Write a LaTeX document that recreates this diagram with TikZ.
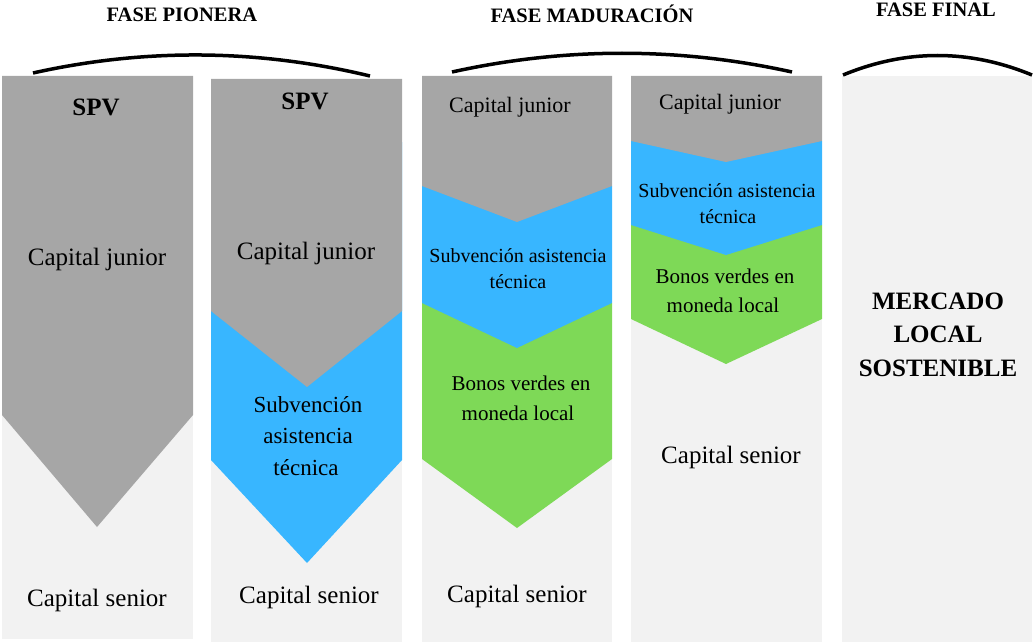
\documentclass[tikz,border=0pt]{standalone}
\usepackage{fontspec}
\setmainfont{Liberation Serif}
\definecolor{layergray}{HTML}{A6A6A6}
\definecolor{panelbg}{HTML}{F2F2F2}
\definecolor{grantblue}{HTML}{38B6FF}
\definecolor{bondgreen}{HTML}{7ED957}
\begin{document}
\begin{tikzpicture}[x=1pt,y=-1pt,
  txt/.style={anchor=base,inner sep=0pt,text=black},
  fbig/.style={txt,font=\fontsize{25}{30}\selectfont},
  fbigb/.style={txt,font=\bfseries\fontsize{25}{30}\selectfont},
  fmid/.style={txt,font=\fontsize{23}{28}\selectfont},
  fjr/.style={txt,font=\fontsize{22}{26}\selectfont},
  fbond/.style={txt,font=\fontsize{21}{25}\selectfont},
  fgrant/.style={txt,font=\fontsize{20}{24}\selectfont},
  ftitle/.style={txt,font=\bfseries\fontsize{20.5}{24}\selectfont},
  phase/.style={line width=3.5pt,draw=black}]
\useasboundingbox (0,0) rectangle (1034,642);

% column 1: pioneer SPV
\fill[panelbg] (2,76) rectangle (193,639);
\fill[layergray] (2,76) -- (193,76) -- (193,415) -- (97,527) -- (2,415) -- cycle;

% column 2: pioneer SPV with technical-assistance grant
\fill[panelbg] (211,79) rectangle (402,642);
\fill[grantblue] (211,142) -- (402,142) -- (402,460) -- (307,563) -- (211,460) -- cycle;
\fill[layergray] (211,79) -- (402,79) -- (402,311) -- (307,387) -- (211,311) -- cycle;

% column 3: maturation, large layers
\fill[panelbg] (422,76) rectangle (612,642);
\fill[bondgreen] (422,303) -- (612,303) -- (612,459) -- (517,528) -- (422,459) -- cycle;
\fill[grantblue] (422,186) -- (612,186) -- (612,303) -- (517,348) -- (422,303) -- cycle;
\fill[layergray] (422,76) -- (612,76) -- (612,186) -- (517,222) -- (422,186) -- cycle;

% column 4: maturation, smaller layers
\fill[panelbg] (631,76) rectangle (822,642);
\fill[bondgreen] (631,225) -- (822,225) -- (822,319) -- (726,364) -- (631,319) -- cycle;
\fill[grantblue] (631,141) -- (822,141) -- (822,225) -- (726,255) -- (631,225) -- cycle;
\fill[layergray] (631,76) -- (822,76) -- (822,141) -- (726,162) -- (631,141) -- cycle;

% column 5: final phase
\fill[panelbg] (842,76) rectangle (1032,642);

% phase brackets
\draw[phase] (33,73) .. controls (145,48) and (258,49) .. (370,76);
\draw[phase] (452,72) .. controls (565,47) and (679,47) .. (792,72);
\draw[phase] (843,75) .. controls (906,49) and (969,49) .. (1032,75);

% phase titles
\node[ftitle] (tPion) at (182,22) {FASE PIONERA};
\node[ftitle] (tMad) at (592,22.5) {FASE MADURACIÓN};
\node[ftitle] (tFin) at (936,17) {FASE FINAL};

% column 1 labels
\node[fbigb] (spvA) at (96,115) {SPV};
\node[fbig] (jrA) at (97,265) {Capital junior};
\node[fbig] (srA) at (97,606) {Capital senior};

% column 2 labels
\node[fbigb] (spvB) at (305,110) {SPV};
\node[fbig] (jrB) at (306,259) {Capital junior};
\node[fmid] (sbB1) at (308,412) {Subvención};
\node[fmid] (sbB2) at (308,443) {asistencia};
\node[fmid] (sbB3) at (306,475) {técnica};
\node[fbig] (srB) at (309,603) {Capital senior};

% column 3 labels
\node[fjr] (jrC) at (510,112) {Capital junior};
\node[fgrant] (sbC1) at (518,262) {Subvención asistencia};
\node[fgrant] (sbC2) at (518,288) {técnica};
\node[fbond] (bnC1) at (521,390) {Bonos verdes en};
\node[fbond] (bnC2) at (518,420) {moneda local};
\node[fbig] (srC) at (517,602) {Capital senior};

% column 4 labels
\node[fjr] (jrD) at (720,110) {Capital junior};
\node[fgrant] (sbD1) at (727,197) {Subvención asistencia};
\node[fgrant] (sbD2) at (728,223) {técnica};
\node[fbond] (bnD1) at (725,283) {Bonos verdes en};
\node[fbond] (bnD2) at (723,312) {moneda local};
\node[fbig] (srD) at (731,463) {Capital senior};

% column 5 label
\node[fbigb] (mk1) at (938,309) {MERCADO};
\node[fbigb] (mk2) at (938,342) {LOCAL};
\node[fbigb] (mk3) at (938,376) {SOSTENIBLE};
\end{tikzpicture}
\end{document}
